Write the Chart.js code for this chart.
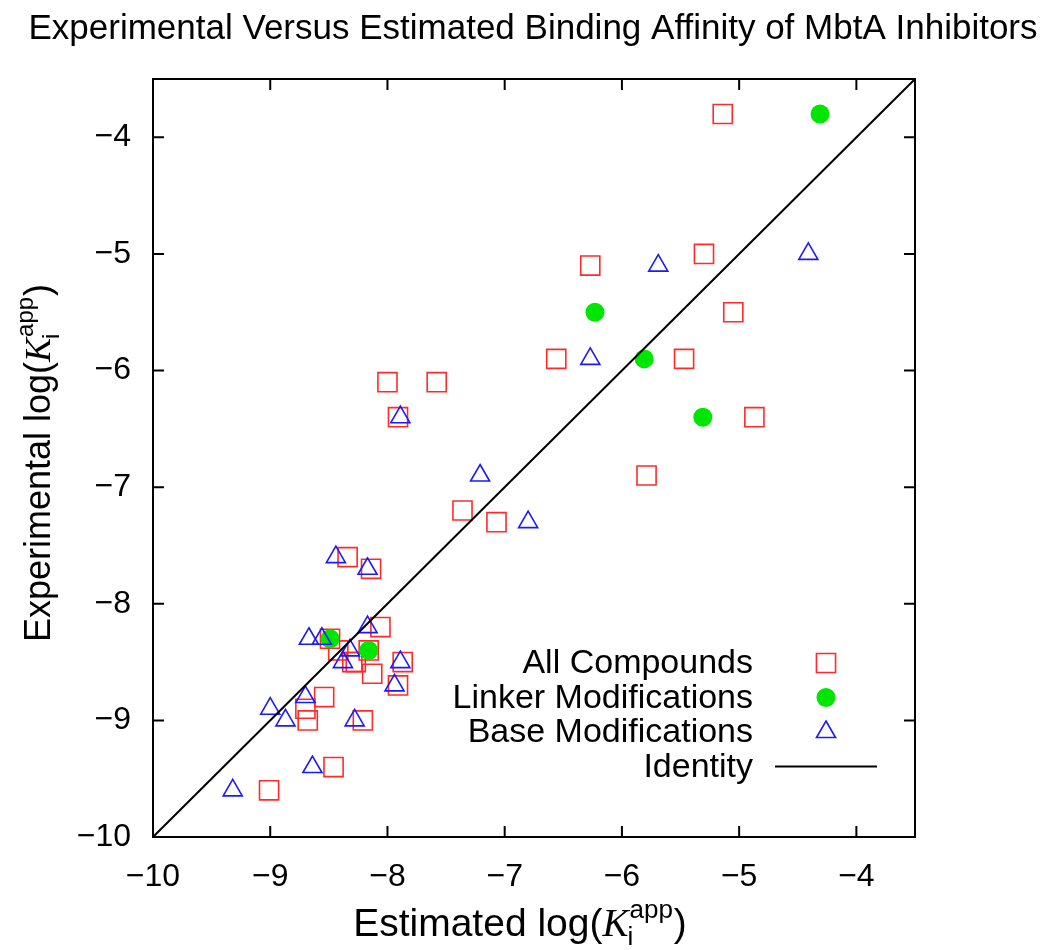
<!DOCTYPE html>
<html>
<head>
<meta charset="utf-8">
<title>Experimental Versus Estimated Binding Affinity of MbtA Inhibitors</title>
<script src="https://cdn.jsdelivr.net/npm/chart.js@4.4.0/dist/chart.umd.min.js"></script>
<style>
  html, body { margin: 0; padding: 0; background: #fff; }
  #wrap { width: 1050px; height: 950px; }
</style>
</head>
<body>
<div id="wrap"><canvas id="chart" width="1050" height="950"></canvas></div>
<script>
const FONT = '"Liberation Sans", Arial, Helvetica, sans-serif';
const SERIF = '"Liberation Serif", "Times New Roman", serif';

const TITLE = "Experimental Versus Estimated Binding Affinity of MbtA Inhibitors";
const TICKS = [-10, -9, -8, -7, -6, -5, -4];
const LEGEND = ["All Compounds", "Linker Modifications", "Base Modifications", "Identity"];

// estimated (x) / experimental (y) log Ki values
const allEst = [-5.14, -6.27, -5.30, -5.05, -6.56, -5.47, -4.87, -5.79, -8.00, -7.58,
  -7.91, -7.36, -7.07, -8.34, -8.14, -8.06, -8.49, -8.42, -8.16, -8.30,
  -8.27, -7.87, -8.13, -7.91, -8.54, -8.70, -8.68, -8.21, -8.46, -9.01];
const allExp = [-3.8, -5.1, -5.0, -5.5, -5.9, -5.9, -6.4, -6.9, -6.1, -6.1,
  -6.4, -7.2, -7.3, -7.6, -7.7, -8.2, -8.3, -8.4, -8.4, -8.5,
  -8.5, -8.5, -8.6, -8.7, -8.8, -8.9, -9.0, -9.0, -9.4, -9.6];

const linkerEst = [-4.31, -6.23, -5.81, -5.31, -8.49, -8.16];
const linkerExp = [-3.8, -5.5, -5.9, -6.4, -8.3, -8.4];

const baseEst = [-5.69, -4.41, -6.27, -6.80, -7.89, -7.21, -8.44, -8.17, -8.17, -8.67,
  -8.56, -8.32, -8.38, -7.89, -7.94, -8.70, -9.00, -8.87, -8.28, -8.64, -9.32];
const baseExp = [-5.1, -5.0, -5.9, -7.3, -6.4, -6.9, -7.6, -7.7, -8.2, -8.3,
  -8.3, -8.4, -8.5, -8.5, -8.7, -8.8, -8.9, -9.0, -9.0, -9.4, -9.6];

const identityX = [-10, -3.5];
const identityY = [-10, -3.5];

const pts = (xs, ys) => xs.map((x, i) => ({ x, y: ys[i] }));
const minus = (v) => String(v).replace("-", "\u2212");

function richLabel(ctx, prefix, cx, cy, rot, big) {
  const small = Math.round(big * 0.66);
  ctx.save();
  ctx.translate(cx, cy);
  ctx.rotate(rot);
  ctx.font = big + "px " + FONT;
  const w1 = ctx.measureText(prefix).width;
  const wP = ctx.measureText(")").width;
  ctx.font = "italic " + big + "px " + SERIF;
  const wK = ctx.measureText("K").width;
  ctx.font = small + "px " + FONT;
  const wSup = ctx.measureText("app").width;
  const total = w1 + wK + wSup + 2 + wP;
  let x = -total / 2;
  const base = big * 0.35;
  ctx.fillStyle = "#000";
  ctx.textAlign = "left";
  ctx.textBaseline = "alphabetic";
  ctx.font = big + "px " + FONT;
  ctx.fillText(prefix, x, base);
  x += w1;
  ctx.font = "italic " + big + "px " + SERIF;
  ctx.fillText("K", x, base);
  x += wK;
  ctx.font = small + "px " + FONT;
  ctx.fillText("i", x - 1, base + 9);
  ctx.fillText("app", x + 1, base - big * 0.46);
  x += wSup + 2;
  ctx.font = big + "px " + FONT;
  ctx.fillText(")", x, base);
  ctx.restore();
}

const decorations = {
  id: "decorations",
  afterDraw(chart) {
    const { ctx, chartArea: a, scales } = chart;
    const sx = scales.x, sy = scales.y;
    ctx.save();

    // title
    ctx.fillStyle = "#000";
    ctx.font = "35px " + FONT;
    ctx.textAlign = "center";
    ctx.textBaseline = "alphabetic";
    ctx.fillText(TITLE, 533, 39);

    // frame and inward ticks on all four sides
    ctx.strokeStyle = "#000";
    ctx.lineWidth = 2;
    ctx.beginPath();
    TICKS.forEach((v) => {
      const px = sx.getPixelForValue(v);
      ctx.moveTo(px, a.bottom); ctx.lineTo(px, a.bottom - 11);
      ctx.moveTo(px, a.top); ctx.lineTo(px, a.top + 11);
      const py = sy.getPixelForValue(v);
      ctx.moveTo(a.left, py); ctx.lineTo(a.left + 11, py);
      ctx.moveTo(a.right, py); ctx.lineTo(a.right - 11, py);
    });
    ctx.stroke();
    ctx.strokeRect(a.left, a.top, a.right - a.left, a.bottom - a.top);

    // axis titles
    richLabel(ctx, "Estimated log(", 520, 922, 0, 39);
    richLabel(ctx, "Experimental log(", 37, 463, -Math.PI / 2, 36);

    // legend inside the plot, text right aligned, key to the right
    const textX = a.right - 162, keyX = a.right - 89;
    ctx.font = "34px " + FONT;
    ctx.textAlign = "right";
    ctx.textBaseline = "middle";
    chart.data.datasets.forEach((ds, i) => {
      const y = 663 + i * 34.5;
      ctx.fillStyle = "#000";
      ctx.fillText(LEGEND[i], textX, y + 1);
      if (ds.type === "line") {
        ctx.strokeStyle = ds.borderColor;
        ctx.lineWidth = ds.borderWidth;
        ctx.beginPath();
        ctx.moveTo(keyX - 51, y);
        ctx.lineTo(keyX + 51, y);
        ctx.stroke();
      } else {
        ctx.fillStyle = ds.pointBackgroundColor;
        ctx.strokeStyle = ds.pointBorderColor;
        ctx.lineWidth = ds.pointBorderWidth;
        Chart.helpers.drawPoint(ctx, {
          pointStyle: ds.pointStyle, radius: ds.pointRadius,
          rotation: 0, borderWidth: ds.pointBorderWidth
        }, keyX, y);
      }
    });
    ctx.restore();
  }
};

const axis = (fit) => ({
  type: "linear",
  min: -10,
  max: -3.5,
  afterBuildTicks: (s) => { s.ticks = TICKS.map((v) => ({ value: v })); },
  afterFit: fit,
  grid: { display: false, drawTicks: false },
  border: { display: false },
  ticks: {
    color: "#000",
    font: { family: FONT, size: 32 },
    callback: (v) => minus(v)
  }
});

const xAxis = axis((s) => { s.height = 113; });
xAxis.ticks.padding = 21;
xAxis.ticks.maxRotation = 0;
const yAxis = axis((s) => { s.width = 153; });
yAxis.ticks.padding = 22;

new Chart(document.getElementById("chart"), {
  type: "scatter",
  data: {
    datasets: [
      {
        label: LEGEND[0],
        data: pts(allEst, allExp),
        pointStyle: "rect",
        pointRadius: 13.5,
        pointBackgroundColor: "rgba(0,0,0,0)",
        pointBorderColor: "#ff2a2a",
        pointBorderWidth: 1.6,
        order: 3
      },
      {
        label: LEGEND[1],
        data: pts(linkerEst, linkerExp),
        pointStyle: "circle",
        pointRadius: 9.5,
        pointBackgroundColor: "#00e600",
        pointBorderColor: "#00e600",
        pointBorderWidth: 0,
        order: 2
      },
      {
        label: LEGEND[2],
        data: pts(baseEst, baseExp),
        pointStyle: "triangle",
        pointRadius: 11,
        pointBackgroundColor: "rgba(0,0,0,0)",
        pointBorderColor: "#1a1aff",
        pointBorderWidth: 1.6,
        order: 1
      },
      {
        type: "line",
        label: LEGEND[3],
        data: pts(identityX, identityY),
        borderColor: "#000",
        borderWidth: 2,
        pointRadius: 0,
        fill: false,
        order: 0
      }
    ]
  },
  options: {
    responsive: false,
    animation: false,
    devicePixelRatio: 1,
    layout: { padding: { top: 79, right: 135, left: 0, bottom: 0 } },
    plugins: { legend: { display: false }, tooltip: { enabled: false } },
    scales: { x: xAxis, y: yAxis }
  },
  plugins: [decorations]
});
</script>
</body>
</html>
